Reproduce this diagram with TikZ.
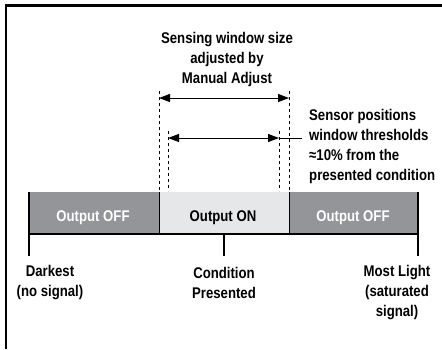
\documentclass[tikz,border=0pt]{standalone}
\usepackage{fontspec}
\setmainfont[FakeStretch=0.85]{Liberation Sans}
\usetikzlibrary{arrows.meta}
\definecolor{offgray}{HTML}{939598}
\definecolor{ongray}{HTML}{E6E7E8}
\begin{document}
\begin{tikzpicture}[x=1pt,y=-1pt,
  lbl/.style={font=\bfseries\fontsize{15.5}{20}\selectfont, align=center, inner sep=0pt},
  dashline/.style={line width=1pt, dash pattern=on 3pt off 3pt},
  dimarrow/.style={line width=1pt, {Triangle[length=11pt,width=8pt]}-{Triangle[length=11pt,width=8pt]}},
  frameline/.style={line width=2.5pt}]
\useasboundingbox (0,0) rectangle (442,349);
% frame
\draw[frameline] (6,349) -- (6,5.5) -- (442,5.5);
% bar
\fill[offgray] (29,192) rectangle (159,234);
\fill[ongray] (159,192) rectangle (289,234);
\fill[offgray] (289,192) rectangle (418,234);
\draw[line width=1pt] (159,192) -- (159,234);
\draw[line width=1pt] (289,192) -- (289,234);
\draw[line width=1.5pt] (29,234) -- (418,234);
\draw[line width=2pt] (29,192) -- (29,256);
\draw[line width=2pt] (418,192) -- (418,256);
\draw[line width=2pt] (224,234) -- (224,256);
% bar labels
\node[lbl, text=white] (off1) at (93,218) {Output OFF};
\node[lbl] (on) at (223,218) {Output ON};
\node[lbl, text=white] (off2) at (353,218) {Output OFF};
% dashed lines
\coordinate (oL) at (159,91); \coordinate (oLb) at (159,192);
\coordinate (oR) at (289,91); \coordinate (oRb) at (289,192);
\coordinate (iL) at (168,131); \coordinate (iLb) at (168,191);
\coordinate (iR) at (279,131); \coordinate (iRb) at (279,191);
\draw[dashline] (oL) -- (oLb);
\draw[dashline] (oR) -- (oRb);
\draw[dashline] (iL) -- (iLb);
\draw[dashline] (iR) -- (iRb);
% arrows
\coordinate (aL) at (159,98); \coordinate (aR) at (289,98);
\coordinate (bL) at (168,138); \coordinate (bR) at (279,138);
\coordinate (lead) at (302,138);
\draw[dimarrow] (aL) -- (aR);
\draw[dimarrow] (bL) -- (bR);
\draw[line width=1pt] (bR) -- (lead);
% top text
\node[lbl] (top) at (227,59) {Sensing window size\\adjusted by\\Manual Adjust};
\node[lbl, align=left, anchor=west] (right) at (309,146.5) {Sensor positions\\window thresholds\\≈10\% from the\\presented condition};
% bottom labels
\node[lbl] (dark) at (50,283) {Darkest\\(no signal)};
\node[lbl] (cond) at (224,283) {Condition\\Presented};
\node[lbl] (most) at (397,293) {Most Light\\(saturated\\signal)};
\end{tikzpicture}
\end{document}
